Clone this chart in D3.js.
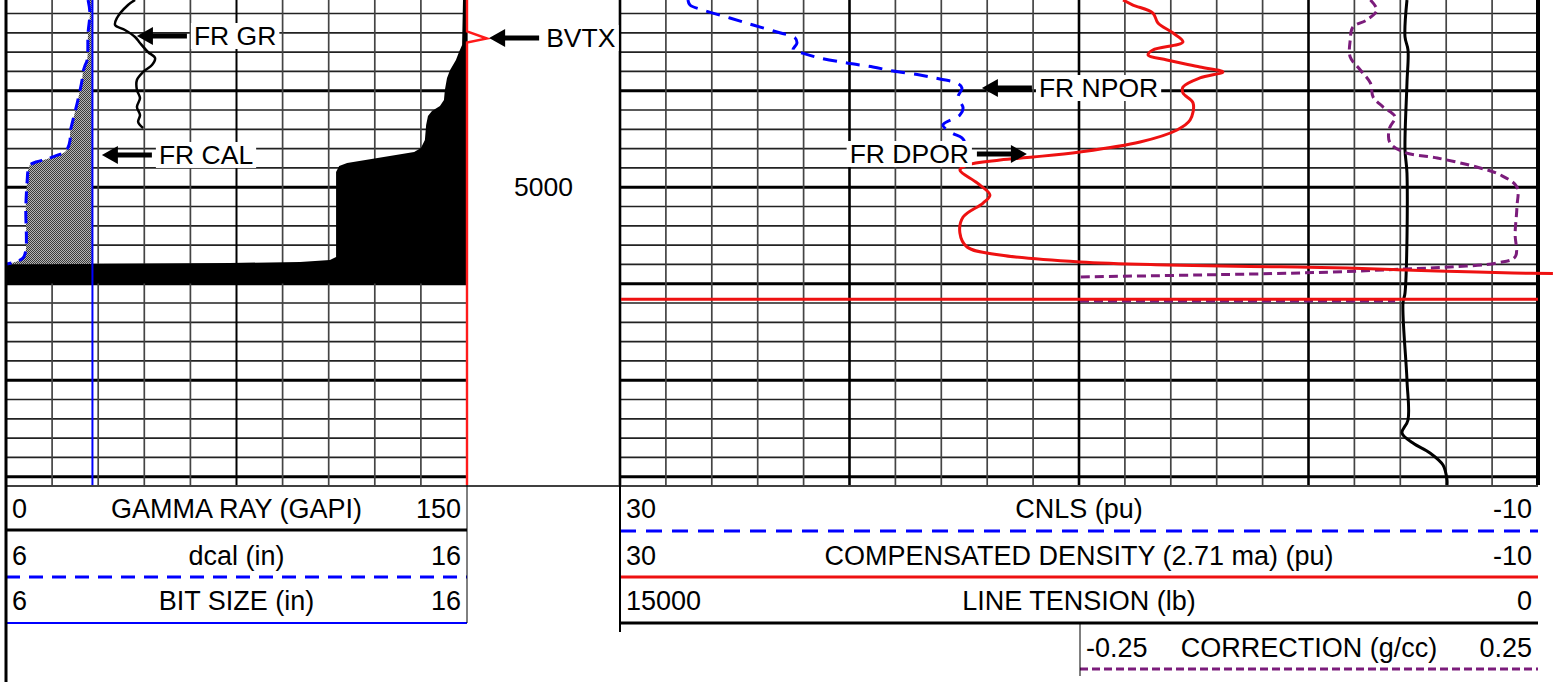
<!DOCTYPE html>
<html><head><meta charset="utf-8">
<script src="https://cdn.jsdelivr.net/npm/d3@7"></script>
<style>html,body{margin:0;padding:0;background:#fff;overflow:hidden}svg{display:block}text{font-family:"Liberation Sans",Arial,sans-serif;fill:#000}</style>
</head><body><svg id="c" width="1553" height="682"></svg>
<script>
// ---------------- DATA ----------------
const depthRange = [4980.6, 5030.86];          // ft, top and bottom of the log
const bitSize = 7.875;                          // in
// [depth ft, value]
const gammaRay = [[4980.60,42.0],[4981.12,39.7],[4982.47,36.1],[4983.19,35.5],[4983.71,38.7],[4984.43,42.0],[4985.06,43.6],[4985.99,46.2],[4986.61,48.5],[4987.34,47.5],[4988.06,44.6],[4988.89,42.6],[4989.93,42.6],[4990.76,43.6],[4991.69,42.6],[4992.52,43.6],[4993.24,43.0],[4993.86,44.6]];
const caliper = [[4980.60,7.78],[4981.95,7.82],[4984.02,7.78],[4986.82,7.76],[4987.44,7.71],[4988.06,7.67],[4988.89,7.65],[4990.96,7.56],[4992.52,7.48],[4994.38,7.39],[4995.11,7.39],[4995.94,7.34],[4996.35,7.28],[4996.77,7.06],[4997.08,6.89],[4997.39,6.65],[4997.70,6.52],[4998.22,6.48],[4999.25,6.46],[5002.05,6.43],[5006.51,6.43],[5007.34,6.37],[5007.75,6.20],[5007.96,6.02]];
// black shading edge in the gamma-ray track (GAPI units, shaded to the right edge)
const grShade = [[4980.60,148.7],[4985.26,148.4],[4985.99,147.4],[4986.82,146.4],[4987.85,144.5],[4988.68,143.5],[4989.93,142.8],[4990.96,142.5],[4991.58,141.2],[4992.10,138.6],[4992.62,137.3],[4993.55,136.7],[4995.11,136.3],[4995.94,135.0],[4996.35,132.8],[4997.49,111.0],[4997.80,108.4],[4998.42,107.4],[5007.23,107.4],[5007.54,105.4],[5007.75,95.7],[5007.85,72.9],[5007.96,30.6],[5008.06,0],[5009.98,0]];
const bvtx = [[4980.60,150.0],[4983.86,150.0],[4984.59,156.5],[4985.00,150.0],[5030.86,150.0]];
const cnls = [[4980.60,27.04],[4981.12,26.95],[4981.64,26.38],[4982.47,25.21],[4983.19,24.20],[4983.92,23.16],[4984.54,22.37],[4985.06,22.29],[4985.78,22.46],[4986.09,22.07],[4986.61,21.29],[4987.13,20.11],[4987.54,18.98],[4987.96,18.10],[4988.37,16.93],[4988.79,16.06],[4989.20,15.32],[4989.72,15.10],[4990.65,15.27],[4991.79,15.05],[4992.52,15.19],[4993.55,15.93],[4994.38,15.53],[4994.90,15.10],[4995.83,14.84]];
const dpor = [[4980.60,8.08],[4981.12,7.65],[4981.95,6.78],[4982.98,6.56],[4984.02,5.90],[4984.95,5.47],[4985.78,6.78],[4986.30,6.99],[4986.82,6.17],[4987.54,4.73],[4988.06,3.73],[4988.68,4.73],[4989.62,5.47],[4990.24,5.47],[4991.27,5.03],[4993.04,5.16],[4994.07,5.73],[4995.32,7.34],[4996.35,9.96],[4996.87,12.0],[4997.18,13.44],[4997.70,14.88],[4998.22,15.19],[4999.56,14.44],[5000.81,13.88],[5001.64,14.18],[5003.09,15.05],[5004.75,15.19],[5006.20,14.88],[5007.02,13.44],[5007.75,9.96],[5008.06,6.17],[5008.22,2.55],[5008.27,0.50],[5008.37,-1.68],[5008.53,-3.68],[5008.68,-5.60],[5008.79,-7.34],[5008.89,-8.91],[5008.94,-10.65],[5010.5,null],[5011.62,30],[5011.62,-10]];
const tension = [[4980.60,2141],[4984.43,2173],[4985.78,2124],[4989.20,2141],[4996.14,2173],[4998.53,2141],[5010.96,2173],[5012.00,2206],[5019.98,2141],[5024.12,2124],[5025.47,2222],[5026.51,2043],[5027.54,1765],[5028.79,1552],[5030.34,1487],[5030.86,1487]];
const correction = [[4980.60,0.067],[4981.64,0.074],[4982.67,0.063],[4983.40,0.048],[4984.75,0.045],[4986.51,0.045],[4987.85,0.056],[4989.20,0.067],[4990.65,0.070],[4991.69,0.081],[4992.72,0.094],[4993.86,0.088],[4995.32,0.088],[4996.35,0.103],[4996.97,0.140],[4997.91,0.183],[4998.73,0.209],[4999.98,0.227],[5002.05,0.227],[5004.75,0.225],[5007.23,0.225],[5007.85,0.205],[5008.27,0.154],[5008.48,0.103],[5008.79,0.026],[5009.00,-0.064],[5009.30,-0.25],[5010.5,null],[5011.79,-0.25],[5011.79,0.094]];
// header rows: [min, name, max]
const leftHeader = [["0","GAMMA RAY (GAPI)","150"],["6","dcal (in)","16"],["6","BIT SIZE (in)","16"]];
const rightHeader = [["30","CNLS (pu)","-10"],["30","COMPENSATED DENSITY (2.71 ma) (pu)","-10"],["15000","LINE TENSION (lb)","0"]];
const corrHeader = ["-0.25","CORRECTION (g/cc)","0.25"];
// annotations: [text, scale key, depth, value, direction]
const notes = [["FR GR","gr",4984.33,42.6,"left"],["FR CAL","cal",4996.66,8.08,"left"],["BVTX","gr",4984.54,157.2,"left"],["FR NPOR","por",4989.72,14.23,"left"],["FR DPOR","por",4996.56,12.27,"right"]];

// ---------------- LAYOUT ----------------
const svg = d3.select("#c");
const L0 = 6, L1 = 467, R0 = 620, R1 = 1538, C0 = 1080, BOT = 485;
const y = d3.scaleLinear().domain(depthRange).range([0, BOT]);
const grX = d3.scaleLinear().domain([0,150]).range([L0,L1]);
const calX = d3.scaleLinear().domain([6,16]).range([L0,L1]);
const porX = d3.scaleLinear().domain([30,-10]).range([R0,R1]);
const tenX = d3.scaleLinear().domain([15000,0]).range([R0,R1]);
const corX = d3.scaleLinear().domain([-0.25,0.25]).range([C0,R1]);
const scales = {gr:grX, cal:calX, por:porX};
const FS = 26.5, HFS = 27;

const defs = svg.append("defs");
const pat = defs.append("pattern").attr("id","stip").attr("width",2).attr("height",2).attr("patternUnits","userSpaceOnUse");
pat.append("rect").attr("width",2).attr("height",2).attr("fill","#b4b4b4");
pat.append("rect").attr("width",1).attr("height",1).attr("fill","#3a3a3a");
pat.append("rect").attr("x",1).attr("y",1).attr("width",1).attr("height",1).attr("fill","#3a3a3a");

// ---------------- GRID ----------------
const g = svg.append("g");
const hTicks = d3.range(Math.ceil(depthRange[0]/2)*2, depthRange[1], 2);
hTicks.forEach(d => {
  const major = Math.round(d) % 10 === 0;
  [[L0,L1],[R0,R1]].forEach(([a,b]) => g.append("line").attr("x1",a).attr("x2",b).attr("y1",y(d)).attr("y2",y(d))
    .attr("stroke", major ? "#000" : "#222").attr("stroke-width", major ? 3 : 1.7));
});
d3.range(0,151,15).forEach((v,i) => g.append("line").attr("x1",grX(v)).attr("x2",grX(v)).attr("y1",0).attr("y2",BOT)
  .attr("stroke", i===5 ? "#000" : "#444").attr("stroke-width", i===5 ? 2 : 1.7));
d3.range(30,-11,-2).forEach((v,i) => { const major = i%5===0;
  g.append("line").attr("x1",porX(v)).attr("x2",porX(v)).attr("y1",0).attr("y2",BOT)
  .attr("stroke", major ? "#000" : "#444").attr("stroke-width", major ? 2.6 : 1.7); });
g.append("line").attr("x1",R1).attr("x2",R1).attr("y1",0).attr("y2",BOT).attr("stroke","#000").attr("stroke-width",4);
g.append("line").attr("x1",L0).attr("x2",R1).attr("y1",BOT+1).attr("y2",BOT+1).attr("stroke","#000").attr("stroke-width",1.5);

// depth labels
d3.range(Math.ceil(depthRange[0]/100)*100, depthRange[1], 100).forEach(d =>
  svg.append("text").attr("x",(L1+R0)/2).attr("y",y(d)+9).attr("text-anchor","middle").attr("font-size",FS).text(d));

// ---------------- CURVES ----------------
const c = svg.append("g");
c.append("path").datum(grShade).attr("fill","#000")
  .attr("d", d3.area().y(d=>y(d[0])).x0(d=>grX(d[1])).x1(grX(150)));
c.append("path").datum(caliper).attr("fill","url(#stip)")
  .attr("d", d3.area().y(d=>y(d[0])).x0(d=>calX(d[1])).x1(calX(bitSize)).curve(d3.curveCatmullRom));
c.append("line").attr("x1",calX(bitSize)).attr("x2",calX(bitSize)).attr("y1",0).attr("y2",BOT).attr("stroke","#0000ff").attr("stroke-width",2);

function curve(data, sx, color, w, dash, cv) {
  const p = c.append("path").datum(data).attr("fill","none").attr("stroke",color).attr("stroke-width",w)
    .attr("d", d3.line().defined(d=>d[1]!=null).y(d=>y(d[0])).x(d=>sx(d[1])).curve(cv || d3.curveCatmullRom));
  if (dash) p.attr("stroke-dasharray",dash);
}
curve(bvtx, grX, "#ff1a1a", 2.4, null, d3.curveLinear);
curve(caliper, calX, "#0000ff", 3, "12,8");
curve(gammaRay, grX, "#000", 2.5);
curve(tension, tenX, "#000", 3);
curve(correction, corX, "#7b1c7b", 3, "9,5");
curve(cnls, porX, "#0000ff", 3, "14,9");
curve(dpor, porX, "#ee1111", 3);

// ---------------- ANNOTATIONS ----------------
const a = svg.append("g");
notes.forEach(([txt,key,dep,val,dir]) => {
  const tx = scales[key](val), ty = y(dep), len = 50, hl = 16, hw = 9, sw = 2.6;
  const s = dir==="left" ? 1 : -1;
  const t = a.append("text").attr("font-size",FS).attr("y",ty+9.3);
  t.text(txt);
  if (dir==="left") t.attr("x", tx + len + 7); else t.attr("x", tx - len - 8).attr("text-anchor","end");
  const bb = t.node().getBBox();
  a.insert("rect","text").attr("x",bb.x-3).attr("y",ty-13).attr("width",bb.width+6).attr("height",26).attr("fill","#fff");
  const hx = tx + s*hl, ex = tx + s*len;
  a.append("path").attr("fill","#000")
    .attr("d",`M${tx},${ty}L${hx},${ty-hw}L${hx},${ty-sw}L${ex},${ty-sw}L${ex},${ty+sw}L${hx},${ty+sw}L${hx},${ty+hw}Z`);
});

// ---------------- HEADER ----------------
const h = svg.append("g");
const rowY = [508, 555, 600];
function row(x0, x1, cy, [mn, nm, mx]) {
  h.append("text").attr("x",x0+6).attr("y",cy+9.5).attr("font-size",HFS).text(mn);
  h.append("text").attr("x",(x0+x1)/2).attr("y",cy+9.5).attr("text-anchor","middle").attr("font-size",HFS).text(nm);
  h.append("text").attr("x",x1-6).attr("y",cy+9.5).attr("text-anchor","end").attr("font-size",HFS).text(mx);
}
leftHeader.forEach((r,i)=>row(L0,L1,rowY[i],r));
rightHeader.forEach((r,i)=>row(R0,R1,rowY[i],r));
row(C0,R1,647,corrHeader);
function hl(x0,x1,yy,color,w,dash){ const l=h.append("line").attr("x1",x0).attr("x2",x1).attr("y1",yy).attr("y2",yy).attr("stroke",color).attr("stroke-width",w); if(dash) l.attr("stroke-dasharray",dash); }
function vl(xx,y0,y1,color,w){ h.append("line").attr("x1",xx).attr("x2",xx).attr("y1",y0).attr("y2",y1).attr("stroke",color).attr("stroke-width",w); }
hl(L0,L1,530,"#000",3);
hl(L0,L1,577,"#0000ff",3,"14,9");
hl(L0,L1,623,"#0000ff",2);
hl(R0,R1,531,"#0000ff",3,"16,10");
hl(R0,R1,577,"#ee1111",3);
hl(R0,R1,623,"#000",3);
hl(C0,R1,669,"#7b1c7b",3,"8,4");
vl(L1,BOT,623,"#000",1);
vl(R0,0,632,"#000",2);
vl(C0,623,676,"#000",1);
vl(L0,0,682,"#000",3);
</script></body></html>
